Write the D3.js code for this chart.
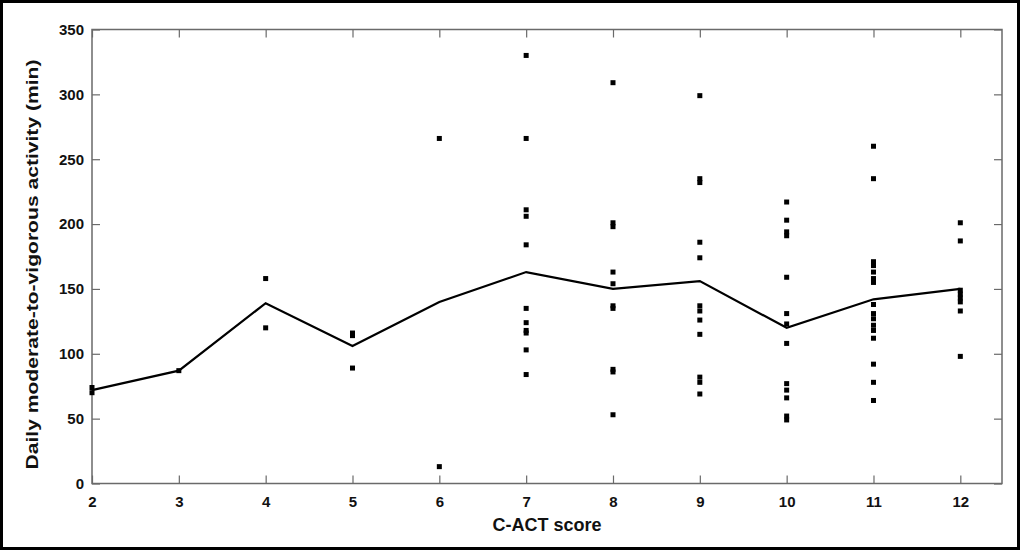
<!DOCTYPE html>
<html>
<head>
<meta charset="utf-8">
<script src="https://cdn.jsdelivr.net/npm/d3@7"></script>
<style>
  html, body { margin: 0; padding: 0; background: #fff; }
  svg { display: block; font-family: "Liberation Sans", Arial, sans-serif; }
</style>
</head>
<body>
<svg id="chart" width="1020" height="550"></svg>
<script>
// C-ACT score vs daily MVPA, scatter + mean line
const scores = [2, 3, 4, 5, 6, 7, 8, 9, 10, 11, 12];
const meanMvpa = [72, 87, 139, 106, 140, 163, 150, 156, 120, 142, 150];
const mvpaByScore = [
  [74, 70],
  [87],
  [158, 120],
  [116, 114, 89],
  [266, 13],
  [330, 266, 211, 206, 184, 135, 124, 118, 116, 103, 84],
  [309, 201, 198, 163, 154, 137, 135, 88, 86, 53],
  [299, 235, 232, 186, 174, 137, 133, 126, 115, 82, 78, 69],
  [217, 203, 194, 191, 159, 131, 123, 108, 77, 72, 66, 52, 49],
  [260, 235, 171, 168, 163, 158, 155, 138, 131, 127, 122, 118, 112, 92, 78, 64],
  [201, 187, 149, 146, 143, 140, 133, 98]
];
const yTicks = [0, 50, 100, 150, 200, 250, 300, 350];

const W = 1020, H = 550;
const M = { top: 29.5, right: 18, bottom: 66.5, left: 92 };
const axisCol = "#6a6a6a";

const svg = d3.select("#chart");

// outer frame
svg.append("rect")
  .attr("x", 1.5).attr("y", 1.5).attr("width", W - 3).attr("height", H - 3)
  .attr("fill", "none").attr("stroke", "#000").attr("stroke-width", 3);

const x = d3.scaleLinear().domain([2, 12.48]).range([M.left, W - M.right]);
const y = d3.scaleLinear().domain([0, 350]).range([H - M.bottom, M.top]);

const tickLen = 8;
const styleAxis = g => {
  g.selectAll(".domain").remove();
  g.selectAll("line").attr("stroke", axisCol).attr("stroke-width", 1.2);
  g.selectAll("text").attr("fill", "#111").attr("font-size", 15).attr("font-weight", 700);
};

svg.append("g").attr("transform", `translate(0,${y(0)})`)
  .call(d3.axisBottom(x).tickValues(scores).tickFormat(d3.format("d"))
    .tickSizeInner(-tickLen).tickSizeOuter(0).tickPadding(13))
  .call(styleAxis);
svg.append("g").attr("transform", `translate(0,${y(350)})`)
  .call(d3.axisTop(x).tickValues(scores).tickFormat("")
    .tickSizeInner(-tickLen).tickSizeOuter(0))
  .call(styleAxis);
svg.append("g").attr("transform", `translate(${x(2)},0)`)
  .call(d3.axisLeft(y).tickValues(yTicks)
    .tickSizeInner(-tickLen).tickSizeOuter(0).tickPadding(8))
  .call(styleAxis);
svg.append("g").attr("transform", `translate(${x.range()[1]},0)`)
  .call(d3.axisRight(y).tickValues(yTicks).tickFormat("")
    .tickSizeInner(-tickLen).tickSizeOuter(0))
  .call(styleAxis);

// axis box
svg.append("rect")
  .attr("x", x.range()[0]).attr("y", y(350))
  .attr("width", x.range()[1] - x.range()[0]).attr("height", y(0) - y(350))
  .attr("fill", "none").attr("stroke", axisCol).attr("stroke-width", 1.5);

// scatter points
const pts = [];
scores.forEach((s, i) => mvpaByScore[i].forEach(v => pts.push({ s, v })));
const sz = 5;
svg.append("g").selectAll("rect").data(pts).join("rect")
  .attr("x", d => x(d.s) - sz / 2).attr("y", d => y(d.v) - sz / 2)
  .attr("width", sz).attr("height", sz).attr("fill", "#000");

// mean line
svg.append("path")
  .datum(meanMvpa)
  .attr("fill", "none").attr("stroke", "#000").attr("stroke-width", 2.2)
  .attr("stroke-linejoin", "miter")
  .attr("d", d3.line().x((d, i) => x(scores[i])).y(d => y(d)));

// titles
svg.append("text")
  .attr("x", (x.range()[0] + x.range()[1]) / 2).attr("y", 531)
  .attr("text-anchor", "middle").attr("font-size", 18).attr("font-weight", 700)
  .attr("fill", "#111").text("C-ACT score");
svg.append("text")
  .attr("transform", `translate(38,${(y(0) + y(350)) / 2 + 8}) rotate(-90)`)
  .attr("text-anchor", "middle").attr("font-size", 16).attr("font-weight", 700)
  .attr("textLength", 410).attr("lengthAdjust", "spacingAndGlyphs")
  .attr("fill", "#111").text("Daily moderate-to-vigorous activity (min)");
</script>
</body>
</html>
